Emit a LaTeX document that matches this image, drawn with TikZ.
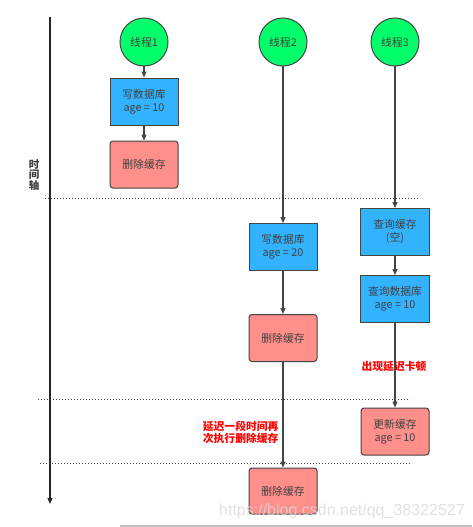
\documentclass[tikz,border=0pt]{standalone}
\usepackage{fontspec}
\setmainfont{Noto Sans CJK SC}
\newfontfamily\wmfont{Liberation Sans}
\usetikzlibrary{arrows.meta}
\definecolor{thgreen}{RGB}{0,255,106}
\definecolor{bxblue}{RGB}{51,178,255}
\definecolor{bxred}{RGB}{255,143,138}
\definecolor{edge}{RGB}{68,68,68}
\begin{document}
\begin{tikzpicture}[x=1pt,y=-1pt,
  font=\fontsize{10.8}{13}\selectfont,
  thread/.style={circle,draw=edge,line width=1pt,fill=thgreen,minimum size=48pt,inner sep=0pt,text=black!75},
  writebox/.style={rectangle,draw=edge,line width=1pt,fill=bxblue,minimum width=68pt,minimum height=47pt,align=center,inner sep=1pt,text=black!75},
  delbox/.style={rectangle,rounded corners=3pt,draw=edge,line width=1pt,fill=bxred,minimum width=68pt,minimum height=47pt,align=center,inner sep=1pt,text=black!75},
  flow/.style={draw=edge,line width=1.3pt,-{Triangle[width=5pt,length=6pt]}},
  sep/.style={draw=black!75,line width=1pt,dash pattern=on 1pt off 2pt},
  note/.style={text=red,font=\fontsize{10.8}{11.5}\selectfont\bfseries,align=right}]
\useasboundingbox (0,0) rectangle (472,527);
\fill[white] (0,0) rectangle (472,527);
\draw[black!25,line width=1.5pt] (120,526) -- (472,526);
% time axis
\coordinate (ax0) at (50,17);
\coordinate (ax1) at (50,504);
\draw[black!85,line width=1.2pt,-{Triangle[width=5pt,length=6pt]}] (ax0) -- (ax1);
\node[align=center,font=\fontsize{10.5}{10.5}\selectfont\bfseries,text=black!75] (axl) at (34,175) {时\\间\\轴};
% separators
\coordinate (s1a) at (45,198); \coordinate (s1b) at (418,198);
\coordinate (s2a) at (38,399); \coordinate (s2b) at (410,399);
\coordinate (s3a) at (40,463); \coordinate (s3b) at (412,463);
\draw[sep] (s1a) -- (s1b);
\draw[sep] (s2a) -- (s2b);
\draw[sep] (s3a) -- (s3b);
% threads
\node[thread] (t1) at (144,42) {线程1};
\node[thread] (t2) at (283,42) {线程2};
\node[thread] (t3) at (395,42) {线程3};
% thread 1
\node[writebox] (w1) at (144,101.5) {写数据库\\age = 10};
\node[delbox] (d1) at (144,164.5) {删除缓存};
% thread 2
\node[writebox] (w2) at (283,247) {写数据库\\age = 20};
\node[delbox] (d2) at (283,338) {删除缓存};
\node[delbox,minimum height=46pt] (d3) at (283,491) {删除缓存};
% thread 3
\node[writebox,minimum width=69pt] (q1) at (395,232) {查询缓存\\(空)};
\node[writebox,minimum width=69pt] (q2) at (395,299) {查询数据库\\age = 10};
\node[delbox] (u) at (395,431.5) {更新缓存\\age = 10};
% notes
\node[note] (n1) at (394,366) {出现延迟卡顿};
\node[note,anchor=east] (n2) at (282,432.5) {延迟一段时间再\\次执行删除缓存};
% flows
\draw[flow] (t1) -- (w1);
\draw[flow] (w1) -- (d1);
\draw[flow] (t2) -- (w2);
\draw[flow] (w2) -- (d2);
\draw[flow] (d2) -- (d3);
\draw[flow] (t3) -- (q1);
\draw[flow] (q1) -- (q2);
\draw[flow] (q2) -- (u);
% watermark
\node[anchor=base west,inner sep=0pt,text=black!15,opacity=0.8,font=\wmfont\fontsize{16}{16}\selectfont] (wm) at (219,515) {https://blog.csdn.net/qq\_38322527};
\end{tikzpicture}
\end{document}
